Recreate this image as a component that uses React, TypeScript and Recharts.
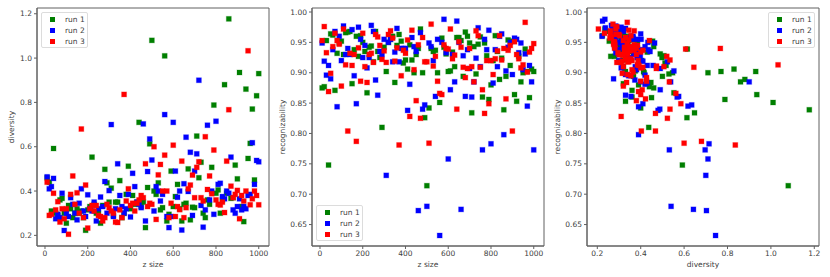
import React from "react";
import { ScatterChart, Scatter, XAxis, YAxis, Legend, ReferenceArea } from "recharts";

const zSizes = [
  10, 20, 30, 40, 50, 60, 70, 80, 90, 100, 110, 120, 130, 140, 150, 160, 170, 180, 190, 200,
  210, 220, 230, 240, 250, 260, 270, 280, 290, 300, 310, 320, 330, 340, 350, 360, 370, 380, 390, 400,
  410, 420, 430, 440, 450, 460, 470, 480, 490, 500, 510, 520, 530, 540, 550, 560, 570, 580, 590, 600,
  610, 620, 630, 640, 650, 660, 670, 680, 690, 700, 710, 720, 730, 740, 750, 760, 770, 780, 790, 800,
  810, 820, 830, 840, 850, 860, 870, 880, 890, 900, 910, 920, 930, 940, 950, 960, 970, 980, 990, 1000,
];

const run1Diversity = [
  0.46, 0.44, 0.31, 0.592, 0.3, 0.29, 0.36, 0.367, 0.3, 0.255, 0.335, 0.32, 0.28, 0.3, 0.32, 0.3, 0.31, 0.28, 0.223, 0.315,
  0.33, 0.553, 0.34, 0.3, 0.3, 0.255, 0.335, 0.498, 0.437, 0.35, 0.413, 0.29, 0.35, 0.35, 0.447, 0.28, 0.3, 0.385, 0.512, 0.32,
  0.38, 0.34, 0.35, 0.71, 0.33, 0.35, 0.235, 0.416, 0.613, 1.08, 0.4, 0.385, 0.437, 0.315, 0.325, 1.01, 0.265, 0.295, 0.49, 0.33,
  0.375, 0.43, 0.32, 0.265, 0.34, 0.345, 0.5, 0.27, 0.327, 0.325, 0.648, 0.46, 0.53, 0.3, 0.28, 0.36, 0.34, 0.507, 0.788, 0.39,
  0.405, 0.3, 0.36, 0.88, 0.39, 1.177, 0.367, 0.37, 0.517, 0.455, 0.935, 0.33, 0.262, 0.86, 0.547, 0.615, 0.77, 0.45, 0.83, 0.93,
];
const run1Recognizability = [
  0.875, 0.877, 0.953, 0.748, 0.964, 0.962, 0.871, 0.932, 0.949, 0.952, 0.93, 0.966, 0.967, 0.968, 0.882, 0.938, 0.96, 0.927, 0.961, 0.95,
  0.935, 0.867, 0.942, 0.944, 0.918, 0.968, 0.935, 0.925, 0.81, 0.942, 0.902, 0.95, 0.955, 0.96, 0.884, 0.945, 0.963, 0.952, 0.916, 0.921,
  0.906, 0.946, 0.921, 0.9, 0.93, 0.94, 0.972, 0.9, 0.826, 0.714, 0.842, 0.94, 0.935, 0.937, 0.9, 0.851, 0.957, 0.942, 0.931, 0.902,
  0.903, 0.934, 0.91, 0.958, 0.958, 0.953, 0.894, 0.967, 0.96, 0.949, 0.834, 0.943, 0.898, 0.947, 0.959, 0.86, 0.949, 0.928, 0.856, 0.88,
  0.92, 0.961, 0.935, 0.889, 0.924, 0.839, 0.894, 0.954, 0.912, 0.952, 0.864, 0.853, 0.927, 0.885, 0.9, 0.939, 0.902, 0.859, 0.906, 0.902,
];

const run2Diversity = [
  0.464, 0.41, 0.42, 0.457, 0.275, 0.295, 0.28, 0.39, 0.222, 0.3, 0.285, 0.37, 0.34, 0.3, 0.27, 0.345, 0.41, 0.31, 0.285, 0.383,
  0.32, 0.31, 0.35, 0.265, 0.32, 0.373, 0.33, 0.443, 0.3, 0.402, 0.7, 0.285, 0.32, 0.523, 0.38, 0.33, 0.3, 0.32, 0.385, 0.283,
  0.48, 0.42, 0.35, 0.34, 0.325, 0.703, 0.265, 0.488, 0.635, 0.54, 0.31, 0.42, 0.4, 0.355, 0.385, 0.745, 0.285, 0.235, 0.285, 0.71,
  0.49, 0.372, 0.4, 0.224, 0.433, 0.643, 0.398, 0.575, 0.29, 0.49, 0.568, 0.9, 0.335, 0.237, 0.315, 0.697, 0.36, 0.4, 0.295, 0.715,
  0.43, 0.435, 0.375, 0.365, 0.4, 0.39, 0.553, 0.315, 0.3, 0.33, 0.365, 0.315, 0.33, 0.32, 0.38, 0.385, 0.618, 0.43, 0.538, 0.532,
];
const run2Recognizability = [
  0.949, 0.919, 0.896, 0.912, 0.89, 0.938, 0.968, 0.844, 0.96, 0.92, 0.977, 0.93, 0.94, 0.93, 0.971, 0.895, 0.849, 0.975, 0.955, 0.925,
  0.945, 0.908, 0.925, 0.978, 0.968, 0.888, 0.863, 0.935, 0.93, 0.955, 0.731, 0.95, 0.955, 0.918, 0.934, 0.973, 0.918, 0.94, 0.94, 0.94,
  0.838, 0.881, 0.958, 0.943, 0.935, 0.673, 0.966, 0.84, 0.847, 0.68, 0.949, 0.943, 0.92, 0.861, 0.955, 0.632, 0.95, 0.988, 0.933, 0.758,
  0.872, 0.93, 0.885, 0.985, 0.95, 0.675, 0.928, 0.861, 0.938, 0.907, 0.86, 0.885, 0.924, 0.974, 0.91, 0.773, 0.955, 0.938, 0.97, 0.783,
  0.883, 0.938, 0.91, 0.96, 0.964, 0.798, 0.903, 0.942, 0.95, 0.897, 0.957, 0.955, 0.933, 0.949, 0.905, 0.931, 0.845, 0.912, 0.885, 0.773,
];

const run3Diversity = [
  0.44, 0.29, 0.295, 0.39, 0.315, 0.352, 0.26, 0.32, 0.275, 0.32, 0.205, 0.385, 0.468, 0.34, 0.392, 0.3, 0.68, 0.28, 0.427, 0.233,
  0.32, 0.335, 0.31, 0.335, 0.29, 0.285, 0.265, 0.28, 0.34, 0.325, 0.31, 0.3, 0.26, 0.258, 0.315, 0.28, 0.836, 0.355, 0.41, 0.335,
  0.345, 0.31, 0.345, 0.36, 0.38, 0.37, 0.523, 0.33, 0.345, 0.34, 0.6, 0.272, 0.473, 0.52, 0.4, 0.562, 0.4, 0.28, 0.345, 0.607,
  0.285, 0.33, 0.316, 0.535, 0.28, 0.325, 0.41, 0.427, 0.472, 0.37, 0.507, 0.532, 0.37, 0.355, 0.645, 0.407, 0.468, 0.388, 0.585, 0.36,
  0.34, 0.337, 0.35, 0.303, 0.535, 0.767, 0.422, 0.37, 0.385, 0.403, 0.275, 0.38, 0.355, 0.4, 1.033, 0.338, 0.365, 0.4, 0.38, 0.338,
];
const run3Recognizability = [
  0.953, 0.976, 0.933, 0.869, 0.899, 0.943, 0.965, 0.953, 0.947, 0.878, 0.972, 0.913, 0.804, 0.932, 0.912, 0.93, 0.787, 0.941, 0.886, 0.965,
  0.91, 0.884, 0.93, 0.932, 0.917, 0.963, 0.959, 0.945, 0.922, 0.936, 0.917, 0.963, 0.969, 0.957, 0.919, 0.941, 0.781, 0.895, 0.937, 0.932,
  0.954, 0.828, 0.97, 0.905, 0.854, 0.946, 0.825, 0.958, 0.918, 0.918, 0.784, 0.98, 0.911, 0.927, 0.886, 0.866, 0.864, 0.946, 0.94, 0.939,
  0.972, 0.923, 0.929, 0.84, 0.951, 0.942, 0.909, 0.892, 0.907, 0.94, 0.91, 0.885, 0.969, 0.961, 0.909, 0.872, 0.833, 0.92, 0.849, 0.92,
  0.897, 0.923, 0.936, 0.961, 0.921, 0.94, 0.857, 0.937, 0.945, 0.804, 0.951, 0.93, 0.923, 0.908, 0.913, 0.983, 0.901, 0.934, 0.94, 0.948,
];

const runNames = ["run 1", "run 2", "run 3"];
const runColors = ["#007f00", "#0000ff", "#ff0000"];
const runDiversity = [run1Diversity, run2Diversity, run3Diversity];
const runRecognizability = [run1Recognizability, run2Recognizability, run3Recognizability];

const zTicks = [0, 200, 400, 600, 800, 1000];
const diversityTicks = [0.2, 0.4, 0.6, 0.8, 1.0, 1.2];
const recognizabilityTicks = [0.65, 0.7, 0.75, 0.8, 0.85, 0.9, 0.95, 1.0];
const diversityXTicks = [0.2, 0.4, 0.6, 0.8, 1.0, 1.2];

const FONT = "DejaVu Sans, sans-serif";
const TEXT = "#404040";
const FRAME = "#606060";

const Square = ({ cx, cy, fill }: any) => (
  <rect
    x={cx - 2.5}
    y={cy - 2.5}
    width={5}
    height={5}
    fill={fill}
    stroke={fill}
    strokeOpacity={0.25}
    strokeWidth={1}
  />
);

const LegendBox = () => (
  <div
    style={{
      width: 47,
      height: 36,
      boxSizing: "border-box",
      border: "1px solid #dcdcdc",
      borderRadius: 2,
      background: "rgba(255,255,255,0.85)",
      fontFamily: FONT,
      fontSize: 7.5,
      color: TEXT,
      position: "relative",
    }}
  >
    {runNames.map((name, i) => (
      <div key={name} style={{ position: "absolute", top: 1 + i * 11.2, left: 0, height: 11, lineHeight: "11px", whiteSpace: "nowrap" }}>
        <span style={{ position: "absolute", left: 8, top: 3, width: 5, height: 5, background: runColors[i] }} />
        <span style={{ position: "absolute", left: 23 }}>{name}</span>
      </div>
    ))}
  </div>
);

const tickFormat2 = (v: number) => v.toFixed(2);
const tickFormat1 = (v: number) => v.toFixed(1);

const Panel = ({
  left,
  xKey,
  xDomain,
  xTicks,
  xFormat,
  xLabel,
  yKey,
  yDomain,
  yTicks,
  yFormat,
  yLabel,
  yLabelOffset,
  legendPos,
}: any) => {
  const tickStyle = { fontSize: 7.5, fontFamily: FONT, fill: TEXT };
  const lineStyle = { stroke: FRAME, strokeWidth: 1 };
  return (
    <div style={{ position: "absolute", left, top: 0, width: 280, height: 277 }}>
      <ScatterChart width={280} height={277} margin={{ top: 8, right: 11, bottom: 0, left: 0 }}>
        <XAxis
          type="number"
          dataKey={xKey}
          domain={xDomain}
          ticks={xTicks}
          tickFormatter={xFormat}
          allowDataOverflow
          interval={0}
          height={31}
          tick={tickStyle}
          tickSize={3}
          tickMargin={2}
          axisLine={lineStyle}
          tickLine={lineStyle}
          label={{ value: xLabel, position: "insideBottom", offset: 10, fontSize: 7.5, fontFamily: FONT, fill: TEXT }}
        />
        <YAxis
          type="number"
          dataKey={yKey}
          domain={yDomain}
          ticks={yTicks}
          tickFormatter={yFormat}
          allowDataOverflow
          interval={0}
          width={37}
          tick={tickStyle}
          tickSize={3}
          tickMargin={2}
          axisLine={lineStyle}
          tickLine={lineStyle}
          label={{ value: yLabel, angle: -90, position: "insideLeft", offset: yLabelOffset, style: { textAnchor: "middle" }, fontSize: 7.5, fontFamily: FONT, fill: TEXT }}
        />
        <ReferenceArea x1={xDomain[0]} x2={xDomain[1]} y1={yDomain[0]} y2={yDomain[1]} fill="none" stroke={FRAME} strokeWidth={1} fillOpacity={0} />
        {runNames.map((name, r) => (
          <Scatter
            key={name}
            name={name}
            data={zSizes.map((z, i) => ({
              z,
              diversity: runDiversity[r][i],
              recognizability: runRecognizability[r][i],
            }))}
            fill={runColors[r]}
            shape={Square}
            isAnimationActive={false}
          />
        ))}
        <Legend
          layout="horizontal"
          align="center"
          verticalAlign="middle"
          content={() => <LegendBox />}
          wrapperStyle={{ position: "absolute", width: 47, height: 36, margin: 0, ...legendPos }}
        />
      </ScatterChart>
    </div>
  );
};

export default function App() {
  return (
    <div style={{ position: "absolute", left: 0, top: 0, width: 830, height: 277, background: "#fff" }}>
      <Panel
        left={0}
        xKey="z"
        xDomain={[-37.4, 1048]}
        xTicks={zTicks}
        xFormat={String}
        xLabel="z size"
        yKey="diversity"
        yDomain={[0.152, 1.226]}
        yTicks={diversityTicks}
        yFormat={tickFormat1}
        yLabel="diversity"
        yLabelOffset={11}
        legendPos={{ left: 41, top: 12 }}
      />
      <Panel
        left={275}
        xKey="z"
        xDomain={[-37.4, 1048]}
        xTicks={zTicks}
        xFormat={String}
        xLabel="z size"
        yKey="recognizability"
        yDomain={[0.6147, 1.0066]}
        yTicks={recognizabilityTicks}
        yFormat={tickFormat2}
        yLabel="recognizability"
        yLabelOffset={7}
        legendPos={{ left: 41, top: 205 }}
      />
      <Panel
        left={550}
        xKey="diversity"
        xDomain={[0.1525, 1.2217]}
        xTicks={diversityXTicks}
        xFormat={tickFormat1}
        xLabel="diversity"
        yKey="recognizability"
        yDomain={[0.6147, 1.0066]}
        yTicks={recognizabilityTicks}
        yFormat={tickFormat2}
        yLabel="recognizability"
        yLabelOffset={7}
        legendPos={{ left: 218, top: 12 }}
      />
    </div>
  );
}
